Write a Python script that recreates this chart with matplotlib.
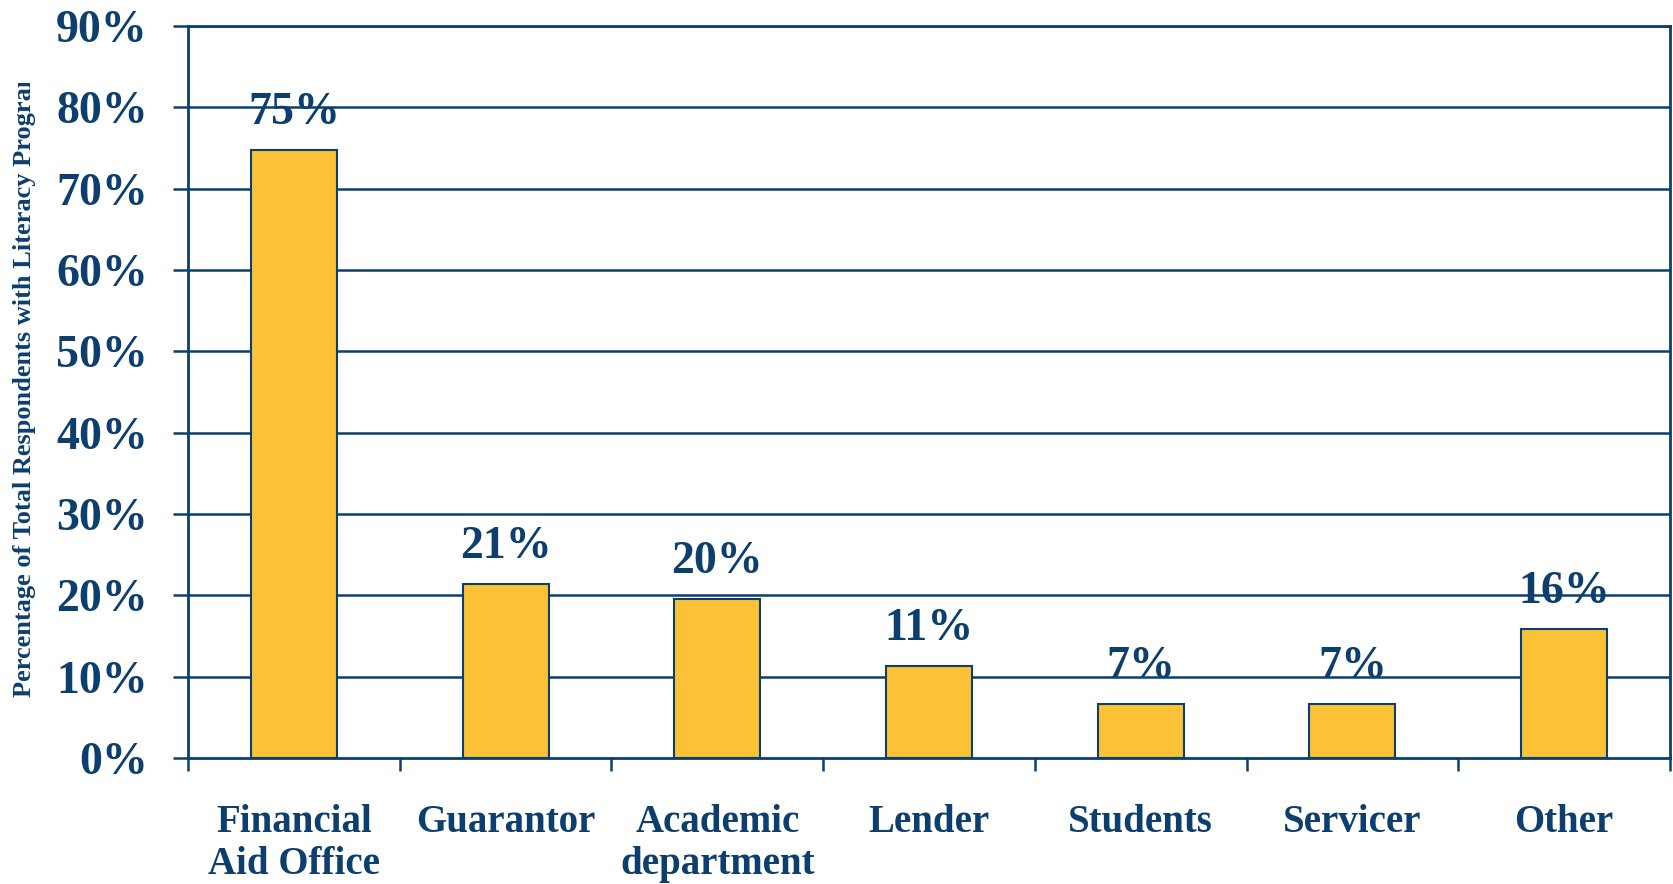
import matplotlib
matplotlib.use("Agg")
import matplotlib.pyplot as plt
import numpy as np
from matplotlib.transforms import Bbox, TransformedBbox

categories = ["Financial\nAid Office", "Guarantor", "Academic\ndepartment", "Lender",
              "Students", "Servicer", "Other"]
values = [74.8, 21.4, 19.6, 11.3, 6.7, 6.7, 15.9]
value_labels = ["75%", "21%", "20%", "11%", "7%", "7%", "16%"]
yticks = [0, 10, 20, 30, 40, 50, 60, 70, 80, 90]
ytick_labels = ["0%", "10%", "20%", "30%", "40%", "50%", "60%", "70%", "80%", "90%"]
ylabel = "Percentage of Total Respondents with Literacy Programs"

NAVY = "#0c3e6e"
YELLOW = "#fbc137"
FONT = ["Liberation Serif", "DejaVu Serif"]

plt.rcParams['font.family'] = FONT
plt.rcParams['font.weight'] = 'bold'

fig = plt.figure(figsize=(16.74, 8.84), dpi=100)
ax = fig.add_axes([188/1674, 1 - 758/884, (1670-188)/1674, (758-26)/884])

x = np.arange(len(categories))
ax.set_axisbelow(True)
for y in yticks[1:]:
    ax.axhline(y, color=NAVY, lw=1.8, zorder=0)
ax.bar(x, values, width=0.406, color=YELLOW, edgecolor=NAVY, linewidth=1.5, zorder=2)

for xi, v, lab in zip(x, values, value_labels):
    ax.annotate(lab, (xi, v), xytext=(0, 18.5), textcoords="offset points",
                ha="center", va="baseline", fontsize=33, fontweight="bold",
                color=NAVY, zorder=3)

ax.set_xlim(-0.5, len(categories) - 0.5)
ax.set_ylim(0, 90)
ax.set_yticks(yticks)
ax.set_yticklabels(ytick_labels, fontsize=33, fontweight="bold", color=NAVY)
ax.set_xticks(x)
ax.set_xticklabels(categories, fontsize=28, fontweight="bold", color=NAVY, linespacing=1.2)
ax.set_xticks(np.arange(len(categories) + 1) - 0.5, minor=True)
ax.tick_params(axis="x", which="major", length=0, pad=33)
ax.tick_params(axis="x", which="minor", length=9, width=1.8, color=NAVY, direction="out")
ax.tick_params(axis="y", which="major", length=11, width=1.8, color=NAVY, pad=18)

for s in ax.spines.values():
    s.set_color(NAVY)
    s.set_linewidth(2.0)

t = fig.text(25/1674, 1 - 697/884, ylabel, rotation=90, ha="center", va="bottom",
             fontsize=19, fontweight="bold", color=NAVY)
t.set_clip_box(TransformedBbox(Bbox([[0, 0], [1, 1 - 83/884]]), fig.transFigure))
t.set_clip_on(True)

fig.savefig("out.png", dpi=100)
